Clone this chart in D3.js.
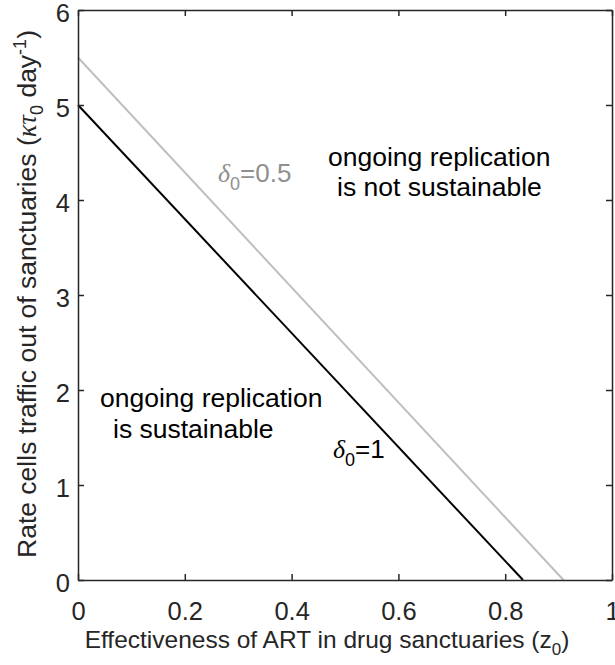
<!DOCTYPE html>
<html>
<head>
<meta charset="utf-8">
<script src="https://cdn.jsdelivr.net/npm/d3@7"></script>
<style>
  body { margin: 0; background: #fff; }
  svg { display: block; }
  text { font-family: "Liberation Sans", Arial, sans-serif; }
</style>
</head>
<body>
<svg id="chart" width="615" height="665"></svg>
<script>
// ---- data ----
const xTicks = [0, 0.2, 0.4, 0.6, 0.8, 1];
const yTicks = [0, 1, 2, 3, 4, 5, 6];
const xTickLabels = ["0", "0.2", "0.4", "0.6", "0.8", "1"];
const yTickLabels = ["0", "1", "2", "3", "4", "5", "6"];
const deltaBlackZ = [0, 0.8333];
const deltaBlackK = [5, 0];
const deltaGrayZ = [0, 0.9091];
const deltaGrayK = [5.5, 0];

const svg = d3.select("#chart");
const L = 78, R = 612, T = 10, B = 580;
const x = d3.scaleLinear().domain([0, 1]).range([L, R]);
const y = d3.scaleLinear().domain([0, 6]).range([B, T]);
const axisColor = "#262626";
const tickLen = 6;

// lines
const line = d3.line().x(d => x(d[0])).y(d => y(d[1]));
svg.append("path")
  .datum(deltaGrayZ.map((z, i) => [z, deltaGrayK[i]]))
  .attr("d", line).attr("fill", "none").attr("stroke", "#bfbfbf").attr("stroke-width", 2);
svg.append("path")
  .datum(deltaBlackZ.map((z, i) => [z, deltaBlackK[i]]))
  .attr("d", line).attr("fill", "none").attr("stroke", "#000").attr("stroke-width", 2);

// axes (inward ticks, box)
const gx = svg.append("g").attr("transform", `translate(0,${B})`)
  .call(d3.axisBottom(x).tickValues(xTicks).tickSizeInner(-tickLen).tickSizeOuter(0)
    .tickPadding(0).tickFormat((d, i) => xTickLabels[i]));
const gxt = svg.append("g").attr("transform", `translate(0,${T})`)
  .call(d3.axisTop(x).tickValues(xTicks).tickSizeInner(-tickLen).tickSizeOuter(0).tickFormat(""));
const gy = svg.append("g").attr("transform", `translate(${L},0)`)
  .call(d3.axisLeft(y).tickValues(yTicks).tickSizeInner(-tickLen).tickSizeOuter(0)
    .tickPadding(0).tickFormat((d, i) => yTickLabels[i]));
const gyr = svg.append("g").attr("transform", `translate(${R},0)`)
  .call(d3.axisRight(y).tickValues(yTicks).tickSizeInner(-tickLen).tickSizeOuter(0).tickFormat(""));

[gx, gxt, gy, gyr].forEach(g => {
  g.selectAll(".domain").attr("stroke", axisColor).attr("stroke-width", 1.5);
  g.selectAll(".tick line").attr("stroke", axisColor).attr("stroke-width", 1.5);
});
gx.selectAll(".tick text").attr("font-size", 25.5).attr("fill", axisColor)
  .attr("dy", null).attr("y", 40).attr("font-family", "Liberation Sans, Arial, sans-serif");
gy.selectAll(".tick text").attr("font-size", 25.5).attr("fill", axisColor)
  .attr("x", -8).attr("dy", "0.45em").attr("font-family", "Liberation Sans, Arial, sans-serif");

// x label
const xl = svg.append("text").attr("x", (82 + 572) / 2).attr("y", 648)
  .attr("text-anchor", "middle").attr("font-size", 24.5).attr("fill", axisColor);
xl.append("tspan").text("Effectiveness of ART in drug sanctuaries (z");
xl.append("tspan").attr("dy", 7).attr("font-size", 17).text("0");
xl.append("tspan").attr("dy", -7).text(")");

// y label
const yl = svg.append("text").attr("transform", "translate(36,294) rotate(-90)")
  .attr("text-anchor", "middle").attr("font-size", 26.5).attr("fill", axisColor);
yl.append("tspan").text("Rate cells traffic out of sanctuaries (");
yl.append("tspan").attr("font-family", "Liberation Serif, serif").attr("font-style", "italic").text("κτ");
yl.append("tspan").attr("dy", 7).attr("font-size", 18).text("0");
yl.append("tspan").attr("dy", -7).text(" day");
yl.append("tspan").attr("dy", -10).attr("font-size", 18).text("-1");
yl.append("tspan").attr("dy", 10).text(")");

// annotations
function delta(xp, yp, val, color) {
  const t = svg.append("text").attr("x", xp).attr("y", yp).attr("font-size", 26).attr("fill", color);
  t.append("tspan").attr("font-family", "Liberation Serif, serif").attr("font-style", "italic").text("δ");
  t.append("tspan").attr("dy", 8).attr("font-size", 18).text("0");
  t.append("tspan").attr("dy", -8).text("=" + val);
}
delta(218, 182, "0.5", "#8f8f8f");
delta(333, 458, "1", "#000");

function txt(xp, yp, s) {
  svg.append("text").attr("x", xp).attr("y", yp).attr("font-size", 26.5).attr("fill", "#000").text(s);
}
txt(328, 166, "ongoing replication");
txt(337, 196, "is not sustainable");
txt(100, 407, "ongoing replication");
txt(113, 438, "is sustainable");
</script>
</body>
</html>
